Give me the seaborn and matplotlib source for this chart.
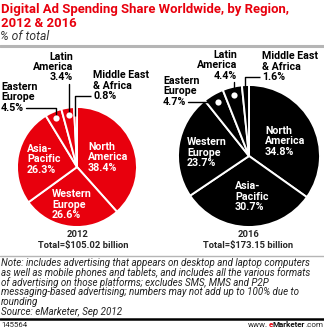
import matplotlib
matplotlib.use("Agg")
import matplotlib.pyplot as plt
import seaborn as sns
import numpy as np

# ---------------- data ----------------
regions_2012 = ["North America", "Western Europe", "Asia-Pacific",
                "Eastern Europe", "Latin America", "Middle East & Africa"]
share_2012 = [38.4, 26.6, 26.3, 4.5, 3.4, 0.8]
regions_2016 = ["North America", "Asia-Pacific", "Western Europe",
                "Eastern Europe", "Latin America", "Middle East & Africa"]
share_2016 = [34.8, 30.7, 23.7, 4.7, 4.4, 1.6]
years = ["2012", "2016"]
totals = ["Total=$105.02 billion", "Total=$173.15 billion"]
name_lines = {
    "North America": ["North", "America"],
    "Western Europe": ["Western", "Europe"],
    "Eastern Europe": ["Eastern", "Europe"],
    "Asia-Pacific": ["Asia-", "Pacific"],
    "Latin America": ["Latin", "America"],
    "Middle East & Africa": ["Middle East", "& Africa"],
}
title_lines = ["Digital Ad Spending Share Worldwide, by Region,", "2012 & 2016"]
subtitle = "% of total"
note_lines = [
    "Note: includes advertising that appears on desktop and laptop computers",
    "as well as mobile phones and tablets, and includes all the various formats",
    "of advertising on those platforms; excludes SMS, MMS and P2P",
    "messaging-based advertising; numbers may not add up to 100% due to",
    "rounding",
    "Source: eMarketer, Sep 2012",
]
chart_id = "145564"

# ---------------- style ----------------
sns.set_theme(style="white")
plt.rcParams["font.family"] = ["Roboto", "DejaVu Sans"]

RED = "#e8000d"
W, H = 324, 331
fig = plt.figure(figsize=(W / 100, H / 100), dpi=100)
fig.patch.set_facecolor("white")
renderer = fig.canvas.get_renderer()


def fx(x):
    return x / W


def fy(y):
    return 1 - y / H


def txt(x, y, s, **kw):
    kw.setdefault("va", "baseline")
    return fig.text(fx(x), fy(y), s, **kw)


def fit(t, target):
    w = t.get_window_extent(renderer).width
    t.set_fontsize(t.get_fontsize() * target / w)


def multiline(x, y, lines, step, **kw):
    """One text object; baselines `step` px apart (used for the 2-line title)."""
    t = txt(x, y + (len(lines) - 1) * step, lines[0], **kw)
    fp = t.get_fontproperties()
    _, h, d = renderer.get_text_width_height_descent("lp", fp, ismath=False)
    t.set_text("\n".join(lines))
    t.set_linespacing(step / (h - d))
    return t


# title (fit width on first line, then build the two-line block)
probe = txt(1, 16, title_lines[0], fontweight="bold", fontsize=8)
fit(probe, 289)
tfs = probe.get_fontsize()
probe.remove()
multiline(1, 16, title_lines, 11.2, color=RED, fontweight="bold", fontsize=tfs)
s = txt(0, 40, subtitle, color="#333333", style="italic", fontsize=7)
fit(s, 49)
fig.add_artist(plt.Line2D([0, 1], [fy(45.5)] * 2, color="#b5b5b5", lw=2.2,
                          transform=fig.transFigure))

LBL = 7.7  # label font size
LS = 10.5

pies = [
    dict(regions=regions_2012, values=share_2012, cx=77, cy=167, r=60, color=RED,
         year=years[0], total=totals[0], yx=78, tx=83,
         inside={"North America": (88, 150), "Western Europe": (52, 197),
                 "Asia-Pacific": (27, 152)},
         ext={"Eastern Europe": ("left", 1, 90),
              "Latin America": ("right", 73, 59.5),
              "Middle East & Africa": ("left", 93, 78)}),
    dict(regions=regions_2016, values=share_2016, cx=249, cy=156, r=71, color="black",
         year=years[1], total=totals[1], yx=249, tx=248,
         inside={"North America": (265, 134), "Western Europe": (187, 145),
                 "Asia-Pacific": (235, 189)},
         ext={"Eastern Europe": ("left", 163, 84),
              "Latin America": ("right", 237, 58),
              "Middle East & Africa": ("left", 262, 59)}),
]

for p in pies:
    cx, cy, r = p["cx"], p["cy"], p["r"]
    ax = fig.add_axes([fx(cx - r), fy(cy + r), 2 * r / W, 2 * r / H])
    ax.pie(p["values"], startangle=90, counterclock=False,
           colors=[p["color"]] * len(p["values"]),
           wedgeprops=dict(edgecolor="white", linewidth=1.4))
    ax.set_xlim(-1, 1)
    ax.set_ylim(-1, 1)
    ax.axis("off")

    vals = np.array(p["values"], dtype=float)
    frac = vals / vals.sum()
    mids = np.cumsum(frac) - frac / 2
    theta = np.deg2rad(90 - 360 * mids)

    def to_data(px, py):
        return (px - cx) / r, (cy - py) / r

    for reg, v, th in zip(p["regions"], p["values"], theta):
        lines = name_lines[reg] + [f"{v}%"]
        if reg in p["inside"]:
            x0, y0 = p["inside"][reg]
            for i, ln in enumerate(lines):
                txt(x0, y0 + i * LS, ln, color="white", fontweight="bold",
                    fontsize=LBL)
            continue
        ha, x0, y0 = p["ext"][reg]
        arts = [txt(x0, y0 + i * LS, ln, color="black", fontweight="bold",
                    fontsize=LBL, ha=ha) for i, ln in enumerate(lines)]
        last = arts[-1].get_window_extent(renderer)
        ymid_last = y0 + 2 * LS - 3.5
        if reg == "Middle East & Africa":
            ex, ey = np.cos(th), np.sin(th)
            lx, ly = to_data(last.x0 - 2, ymid_last)
            ax.plot([lx, ex, ex], [ly, ly, 0.85 * ey], color="black", lw=1,
                    clip_on=False, solid_capstyle="butt", zorder=4)
            continue
        dxp, dyp = 0.88 * np.cos(th), 0.88 * np.sin(th)
        if reg == "Eastern Europe":
            lx, ly = to_data(last.x1 + 2, ymid_last)
            ax.plot([lx, dxp, dxp], [ly, ly, dyp], color="black", lw=1,
                    clip_on=False, zorder=4)
        else:  # Latin America: vertical drop
            _, ly = to_data(0, y0 + 2 * LS + 3)
            ax.plot([dxp, dxp], [ly, dyp], color="black", lw=1,
                    clip_on=False, zorder=4)
        ax.scatter([dxp], [dyp], s=20, color="white", zorder=5, linewidths=0,
                   clip_on=False)

    tt = txt(p["tx"], 248, p["total"], ha="center", fontweight="bold", fontsize=7)
    fit(tt, 91)
    txt(p["yx"], 237, p["year"], ha="center", fontweight="bold",
        fontsize=tt.get_fontsize())

# separator above notes
fig.add_artist(plt.Line2D([0, 1], [fy(256)] * 2, color="#b5b5b5", lw=1,
                          transform=fig.transFigure))
n0 = txt(1, 266, note_lines[0], style="italic", color="#222222", fontsize=6)
fit(n0, 311)
nfs = n0.get_fontsize()
for i, ln in enumerate(note_lines[1:], start=1):
    txt(1, 266 + 9.8 * i, ln, style="italic", color="#222222", fontsize=nfs)

fig.add_artist(plt.Line2D([0, 1], [fy(318.5)] * 2, color="black", lw=1.8,
                          transform=fig.transFigure))
txt(1, 327, chart_id, fontsize=5.6, color="#222222")

# footer brand, built right-to-left
pieces = [(".com", "normal", "#222222"), ("Marketer", "bold", "#111111"),
          ("e", "bold", RED), ("www.", "normal", "#222222")]
xr = 323
for s_, wgt, col in pieces:
    a = txt(xr, 327, s_, ha="right", fontweight=wgt, color=col, fontsize=5.8)
    xr -= a.get_window_extent(renderer).width

fig.savefig("out.png", dpi=100, facecolor="white")
